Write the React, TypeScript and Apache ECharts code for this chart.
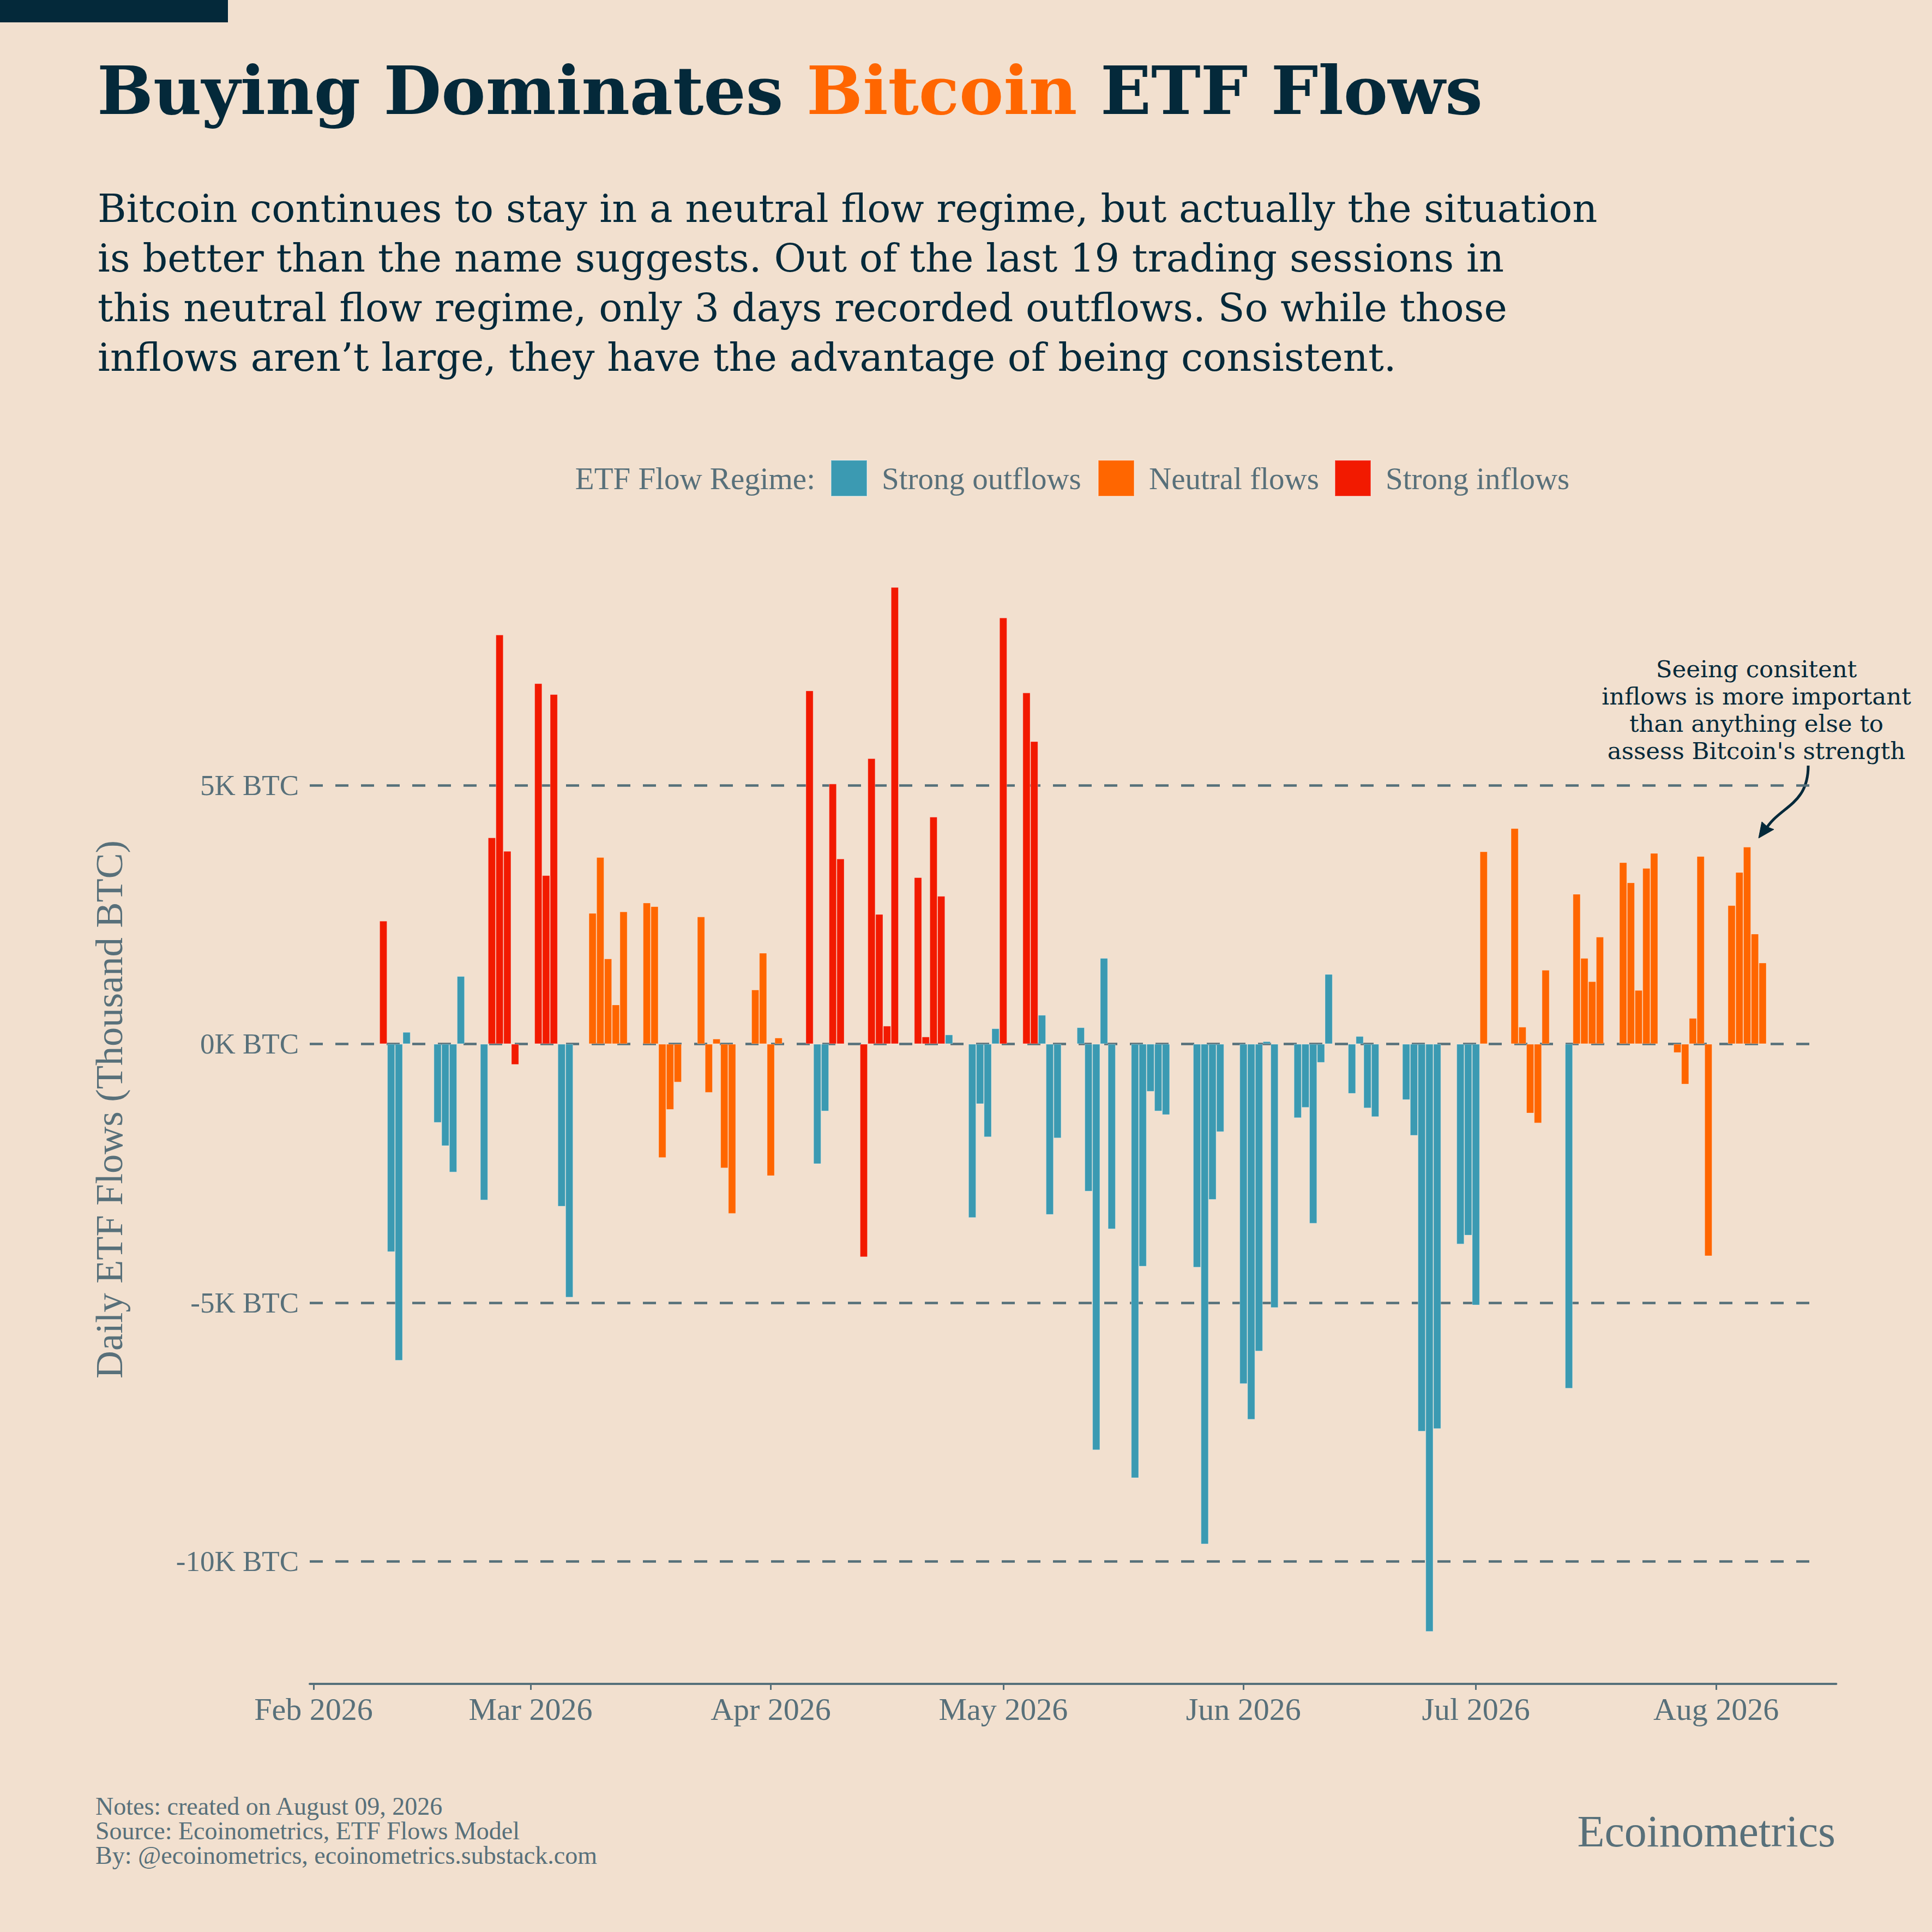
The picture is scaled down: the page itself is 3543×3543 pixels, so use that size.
import React, { useEffect, useRef } from "react";
import * as echarts from "echarts";

// ---------- DATA ----------
const tradingDates = [
  "2026-02-10", "2026-02-11", "2026-02-12", "2026-02-13",
  "2026-02-17", "2026-02-18", "2026-02-19", "2026-02-20",
  "2026-02-23", "2026-02-24", "2026-02-25", "2026-02-26", "2026-02-27",
  "2026-03-02", "2026-03-03", "2026-03-04", "2026-03-05", "2026-03-06",
  "2026-03-09", "2026-03-10", "2026-03-11", "2026-03-12", "2026-03-13",
  "2026-03-16", "2026-03-17", "2026-03-18", "2026-03-19", "2026-03-20",
  "2026-03-23", "2026-03-24", "2026-03-25", "2026-03-26", "2026-03-27",
  "2026-03-30", "2026-03-31", "2026-04-01", "2026-04-02",
  "2026-04-06", "2026-04-07", "2026-04-08", "2026-04-09", "2026-04-10",
  "2026-04-13", "2026-04-14", "2026-04-15", "2026-04-16", "2026-04-17",
  "2026-04-20", "2026-04-21", "2026-04-22", "2026-04-23", "2026-04-24",
  "2026-04-27", "2026-04-28", "2026-04-29", "2026-04-30", "2026-05-01",
  "2026-05-04", "2026-05-05", "2026-05-06", "2026-05-07", "2026-05-08",
  "2026-05-11", "2026-05-12", "2026-05-13", "2026-05-14", "2026-05-15",
  "2026-05-18", "2026-05-19", "2026-05-20", "2026-05-21", "2026-05-22",
  "2026-05-26", "2026-05-27", "2026-05-28", "2026-05-29",
  "2026-06-01", "2026-06-02", "2026-06-03", "2026-06-04", "2026-06-05",
  "2026-06-08", "2026-06-09", "2026-06-10", "2026-06-11", "2026-06-12",
  "2026-06-15", "2026-06-16", "2026-06-17", "2026-06-18",
  "2026-06-22", "2026-06-23", "2026-06-24", "2026-06-25", "2026-06-26",
  "2026-06-29", "2026-06-30", "2026-07-01", "2026-07-02",
  "2026-07-06", "2026-07-07", "2026-07-08", "2026-07-09", "2026-07-10",
  "2026-07-13", "2026-07-14", "2026-07-15", "2026-07-16", "2026-07-17",
  "2026-07-20", "2026-07-21", "2026-07-22", "2026-07-23", "2026-07-24",
  "2026-07-27", "2026-07-28", "2026-07-29", "2026-07-30", "2026-07-31",
  "2026-08-03", "2026-08-04", "2026-08-05", "2026-08-06", "2026-08-07",
];

// Daily ETF flows, thousand BTC
const flows = [
  2.38, -4.02, -6.12, 0.23,
  -1.52, -1.97, -2.48, 1.31,
  -3.02, 3.99, 7.91, 3.73, -0.4,
  6.97, 3.26, 6.76, -3.14, -4.9,
  2.53, 3.61, 1.65, 0.76, 2.56,
  2.73, 2.66, -2.2, -1.27, -0.74,
  2.46, -0.94, 0.1, -2.4, -3.28,
  1.05, 1.76, -2.55, 0.12,
  6.83, -2.32, -1.3, 5.03, 3.58,
  -4.12, 5.52, 2.51, 0.35, 8.83,
  3.22, 0.14, 4.39, 2.86, 0.18,
  -3.36, -1.16, -1.8, 0.3, 8.24,
  6.79, 5.85, 0.56, -3.3, -1.82,
  0.32, -2.85, -7.85, 1.66, -3.58,
  -8.39, -4.3, -0.92, -1.3, -1.37,
  -4.32, -9.67, -3.01, -1.7,
  -6.57, -7.26, -5.94, 0.05, -5.1,
  -1.43, -1.23, -3.47, -0.36, 1.35,
  -0.96, 0.15, -1.24, -1.41,
  -1.08, -1.77, -7.49, -11.36, -7.44,
  -3.87, -3.7, -5.05, 3.72,
  4.17, 0.33, -1.34, -1.53, 1.43,
  -6.66, 2.9, 1.66, 1.21, 2.07,
  3.51, 3.12, 1.04, 3.4, 3.69,
  -0.17, -0.78, 0.5, 3.63, -4.1,
  2.68, 3.32, 3.81, 2.13, 1.57,
];

// O = strong outflows, N = neutral flows, I = strong inflows
const regimes = [
  "I", "O", "O", "O",
  "O", "O", "O", "O",
  "O", "I", "I", "I", "I",
  "I", "I", "I", "O", "O",
  "N", "N", "N", "N", "N",
  "N", "N", "N", "N", "N",
  "N", "N", "N", "N", "N",
  "N", "N", "N", "N",
  "I", "O", "O", "I", "I",
  "I", "I", "I", "I", "I",
  "I", "I", "I", "I", "O",
  "O", "O", "O", "O", "I",
  "I", "I", "O", "O", "O",
  "O", "O", "O", "O", "O",
  "O", "O", "O", "O", "O",
  "O", "O", "O", "O",
  "O", "O", "O", "O", "O",
  "O", "O", "O", "O", "O",
  "O", "O", "O", "O",
  "O", "O", "O", "O", "O",
  "O", "O", "O", "N",
  "N", "N", "N", "N", "N",
  "O", "N", "N", "N", "N",
  "N", "N", "N", "N", "N",
  "N", "N", "N", "N", "N",
  "N", "N", "N", "N", "N",
];

const regimeCodes = ["O", "N", "I"];
const regimeNames = ["Strong outflows", "Neutral flows", "Strong inflows"];
const regimeColors = ["#3B9AB2", "#FF6600", "#F21A00"];

const axisStartDate = "2026-02-01";
const axisEndDate = "2026-08-16";
const monthNames = ["Jan", "Feb", "Mar", "Apr", "May", "Jun", "Jul", "Aug", "Sep", "Oct", "Nov", "Dec"];
const yMin = -12.37;
const yMax = 9.84;
const yStep = 5;

const titleParts = ["Buying Dominates ", "Bitcoin", " ETF Flows"];
const subtitleLines = [
  "Bitcoin continues to stay in a neutral flow regime, but actually the situation",
  "is better than the name suggests. Out of the last 19 trading sessions in",
  "this neutral flow regime, only 3 days recorded outflows. So while those",
  "inflows aren\u2019t large, they have the advantage of being consistent.",
];
const annotationLines = [
  "Seeing consitent",
  "inflows is more important",
  "than anything else to",
  "assess Bitcoin's strength",
];
const footerLines = [
  "Notes: created on August 09, 2026",
  "Source: Ecoinometrics, ETF Flows Model",
  "By: @ecoinometrics, ecoinometrics.substack.com",
];
const legendTitle = "ETF Flow Regime:";
const yAxisTitle = "Daily ETF Flows (Thousand BTC)";
const brand = "Ecoinometrics";

// ---------- STYLE ----------
const W = 3543;
const H = 3543;
const BG = "#F2E0CF";
const DARK = "#04293A";
const GRAY = "#58707A";
const AXIS = "#56707A";
const BODY_FONT = '"Liberation Serif", "Times New Roman", serif';
const TITLE_FONT = '"DejaVu Serif", serif';

const GRID_LEFT = 568;
const GRID_TOP = 981;
const GRID_BOTTOM_Y = 3088;
const DAY_PX = 14.21;

function buildDays(start: string, end: string): string[] {
  const out: string[] = [];
  let t = Date.parse(start + "T00:00:00Z");
  const e = Date.parse(end + "T00:00:00Z");
  while (t <= e) {
    out.push(new Date(t).toISOString().slice(0, 10));
    t += 86400000;
  }
  return out;
}

function buildOption() {
  const days = buildDays(axisStartDate, axisEndDate);
  const idx: Record<string, number> = {};
  tradingDates.forEach((d, i) => (idx[d] = i));
  const gridWidth = days.length * DAY_PX;
  const gridRight = W - GRID_LEFT - gridWidth;
  const gridHeight = GRID_BOTTOM_Y - GRID_TOP;

  const isMonthStart = (_i: number, v: string) => v.slice(8, 10) === "01";
  const fmtMonth = (v: string) => `${monthNames[Number(v.slice(5, 7)) - 1]} ${v.slice(0, 4)}`;

  const series = regimeCodes.map((code, r) => ({
    name: regimeNames[r],
    type: "bar",
    xAxisIndex: 0,
    yAxisIndex: 0,
    barGap: "-100%",
    barCategoryGap: "0%",
    z: 3,
    itemStyle: {
      color: regimeColors[r],
      borderColor: "rgba(255,255,255,0.35)",
      borderWidth: 1,
    },
    data: days.map((d) => {
      const i = idx[d];
      return i !== undefined && regimes[i] === code ? flows[i] : "-";
    }),
  }));

  const legendLefts = [1523, 2013, 2447];
  const legends = regimeNames.map((n, r) => ({
    data: [n],
    left: legendLefts[r],
    top: 843,
    padding: 0,
    itemWidth: 66,
    itemHeight: 66,
    icon: "rect",
    selectedMode: false,
    textStyle: {
      color: GRAY,
      fontSize: 57,
      fontFamily: BODY_FONT,
      padding: [0, 0, 0, 22],
    },
  }));

  const textBase = { fontFamily: BODY_FONT };

  const graphic: any[] = [
    { type: "rect", shape: { x: 0, y: 0, width: 418, height: 41 }, style: { fill: DARK } },
    {
      type: "text",
      x: 178,
      y: 166,
      style: {
        text: `{a|${titleParts[0]}}{b|${titleParts[1]}}{a|${titleParts[2]}}`,
        verticalAlign: "middle",
        align: "left",
        rich: {
          a: { fill: DARK, fontSize: 122, fontWeight: "bold", fontFamily: TITLE_FONT },
          b: { fill: "#FF6600", fontSize: 122, fontWeight: "bold", fontFamily: TITLE_FONT },
        },
      },
    },
    {
      type: "text",
      x: 179,
      y: 337,
      style: {
        text: subtitleLines.join("\n"),
        fill: DARK,
        fontSize: 71.6,
        lineHeight: 91,
        fontFamily: TITLE_FONT,
        align: "left",
        verticalAlign: "top",
      },
    },
    {
      type: "text",
      x: 1495,
      y: 877,
      style: { text: legendTitle, fill: GRAY, fontSize: 57, ...textBase, align: "right", verticalAlign: "middle" },
    },
    {
      type: "text",
      x: 3221,
      y: 1202,
      style: {
        text: annotationLines.join("\n"),
        fill: DARK,
        fontSize: 43.5,
        lineHeight: 50,
        fontFamily: TITLE_FONT,
        align: "center",
        verticalAlign: "top",
      },
    },
    {
      type: "bezierCurve",
      shape: { x1: 3316, y1: 1404, x2: 3236, y2: 1524, cpx1: 3316, cpy1: 1478, cpx2: 3262, cpy2: 1478 },
      style: { stroke: DARK, lineWidth: 5, fill: null },
    },
    {
      type: "polygon",
      shape: { points: [[3225, 1537], [3231, 1507], [3242, 1517], [3253, 1521]] },
      style: { fill: DARK, stroke: DARK, lineWidth: 1 },
    },
    {
      type: "text",
      x: 175,
      y: 3290,
      style: {
        text: footerLines.join("\n"),
        fill: GRAY,
        fontSize: 46,
        lineHeight: 45,
        ...textBase,
        align: "left",
        verticalAlign: "top",
      },
    },
    {
      type: "text",
      x: 3366,
      y: 3358,
      style: { text: brand, fill: GRAY, fontSize: 82, ...textBase, align: "right", verticalAlign: "middle" },
    },
  ];

  return {
    animation: false,
    backgroundColor: BG,
    textStyle: { fontFamily: BODY_FONT },
    grid: [
      { left: GRID_LEFT, right: gridRight, top: GRID_TOP, height: gridHeight, containLabel: false, outerBoundsMode: "none" },
      { left: GRID_LEFT, right: W - 3340, top: GRID_TOP, height: gridHeight, containLabel: false, outerBoundsMode: "none" },
    ],
    legend: legends,
    xAxis: [
      {
        type: "category",
        gridIndex: 0,
        data: days,
        boundaryGap: true,
        axisLine: { show: true, onZero: false, lineStyle: { color: AXIS, width: 4 } },
        axisTick: {
          show: true,
          alignWithLabel: true,
          interval: isMonthStart,
          length: 11,
          lineStyle: { color: AXIS, width: 3 },
        },
        axisLabel: {
          interval: isMonthStart,
          formatter: fmtMonth,
          color: GRAY,
          fontSize: 58,
          fontFamily: BODY_FONT,
          margin: 17,
        },
        splitLine: { show: false },
      },
      { type: "value", gridIndex: 1, min: 0, max: 1, show: false },
    ],
    yAxis: [
      {
        type: "value",
        gridIndex: 0,
        min: yMin,
        max: yMax,
        minInterval: yStep,
        maxInterval: yStep,
        axisLine: { show: false },
        axisTick: { show: false },
        axisLabel: {
          formatter: (v: number) => `${v}K BTC`,
          showMinLabel: false,
          showMaxLabel: false,
          color: GRAY,
          fontSize: 53,
          fontFamily: BODY_FONT,
          margin: 20,
        },
        splitLine: { show: false },
        name: yAxisTitle,
        nameLocation: "middle",
        nameRotate: 90,
        nameGap: 333,
        nameMoveOverlap: false,
        nameTextStyle: { color: GRAY, fontSize: 70.5, fontFamily: BODY_FONT },
      },
      {
        type: "value",
        gridIndex: 1,
        min: yMin,
        max: yMax,
        minInterval: yStep,
        maxInterval: yStep,
        axisLine: { show: false },
        axisTick: { show: false },
        axisLabel: { show: false },
        splitLine: {
          show: true,
          showMinLine: false,
          showMaxLine: false,
          lineStyle: { color: AXIS, width: 4.5, type: [24, 23] },
        },
      },
    ],
    series,
    graphic,
  };
}

export default function App() {
  const ref = useRef<HTMLDivElement>(null);
  useEffect(() => {
    if (!ref.current) return;
    const chart = echarts.init(ref.current, null, { renderer: "svg", width: W, height: H });
    chart.setOption(buildOption() as any);
    return () => chart.dispose();
  }, []);
  return (
    <div
      ref={ref}
      style={{ position: "absolute", left: 0, top: 0, width: W, height: H, background: BG }}
    />
  );
}
